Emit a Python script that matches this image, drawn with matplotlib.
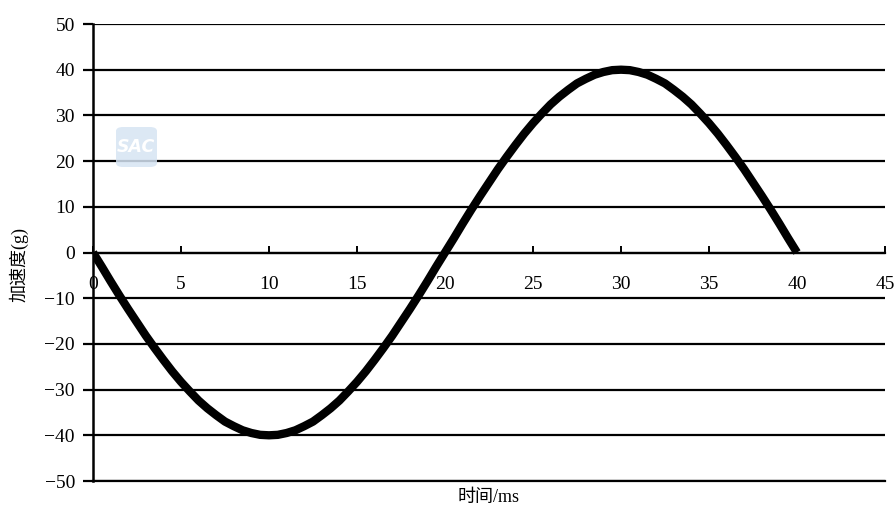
import matplotlib
matplotlib.use('Agg')
import matplotlib.pyplot as plt
from matplotlib.patches import FancyBboxPatch

plt.rcParams['font.family'] = ['Liberation Serif', 'Noto Sans CJK SC', 'DejaVu Sans']

# time (ms) and acceleration (g), every 0.5 ms
time_ms = [i * 0.5 for i in range(0, 81)]
accel_g = [0, -3.1, -6.3, -9.4, -12.4, -15.3, -18.2, -20.9, -23.5, -26.0,
           -28.3, -30.4, -32.4, -34.1, -35.6, -37.0, -38.0, -38.9, -39.5, -39.9,
           -40.0, -39.9, -39.5, -38.9, -38.0, -37.0, -35.6, -34.1, -32.4, -30.4,
           -28.3, -26.0, -23.5, -20.9, -18.2, -15.3, -12.4, -9.4, -6.3, -3.1,
           0, 3.1, 6.3, 9.4, 12.4, 15.3, 18.2, 20.9, 23.5, 26.0,
           28.3, 30.4, 32.4, 34.1, 35.6, 37.0, 38.0, 38.9, 39.5, 39.9,
           40.0, 39.9, 39.5, 38.9, 38.0, 37.0, 35.6, 34.1, 32.4, 30.4,
           28.3, 26.0, 23.5, 20.9, 18.2, 15.3, 12.4, 9.4, 6.3, 3.1, 0]
xticks = [0, 5, 10, 15, 20, 25, 30, 35, 40, 45]
yticks = [-50, -40, -30, -20, -10, 0, 10, 20, 30, 40, 50]

fig = plt.figure(figsize=(8.96, 5.11), dpi=100)
ax = fig.add_axes([93/896, 30/511, 792/896, 457/511])

ax.plot(time_ms, accel_g, color='black', lw=6, solid_capstyle='butt',
        solid_joinstyle='round', zorder=3)

ax.set_xlim(0, 45)
ax.set_ylim(-50, 50)
ax.set_xticks(xticks)
ax.set_yticks(yticks)

for s in ['top', 'right']:
    ax.spines[s].set_visible(False)
ax.spines['bottom'].set_position(('data', 0))
ax.spines['bottom'].set_linewidth(1.6)
ax.spines['left'].set_linewidth(1.8)

ax.yaxis.grid(True, color='black', lw=1.6)
ax.set_axisbelow(True)

ax.tick_params(axis='x', direction='in', length=5, width=1.4, pad=17, labelsize=14)
ax.tick_params(axis='y', direction='out', length=7, width=1.6, pad=6, labelsize=14)

# line at y=-50 along the bottom edge
ax.axhline(-50, color='black', lw=1.6, clip_on=False)

ax.set_xlabel('时间/ms', fontsize=13)
ax.xaxis.set_label_coords(0.5, -0.018)
ax.set_ylabel('加速度(g)', fontsize=13)
ax.yaxis.set_label_coords(-0.082, 0.473)

# faint watermark
logo = FancyBboxPatch((116/896, 344/511), 41/896, 40/511,
                      boxstyle='round,pad=0,rounding_size=0.008',
                      transform=fig.transFigure, facecolor='#d6e4f3',
                      edgecolor='none', alpha=0.85)
fig.patches.append(logo)
fig.text(136/896, 364/511, 'SAC', color='white', fontsize=12.5, fontweight='bold',
         style='italic', ha='center', va='center', family='DejaVu Sans')

fig.savefig('out.png', dpi=100)
